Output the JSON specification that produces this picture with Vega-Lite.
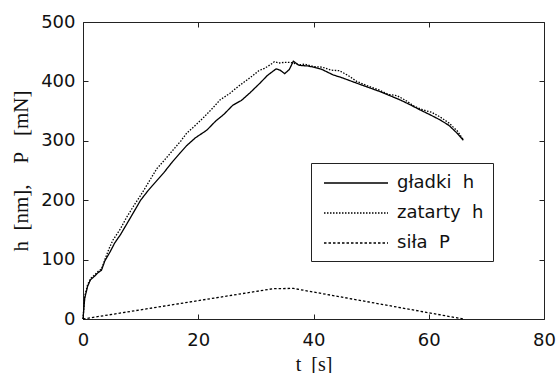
{
  "$schema": "https://vega.github.io/schema/vega-lite/v6.json",
  "width": 461,
  "height": 297,
  "autosize": {"type": "none"},
  "padding": {"left": 83, "top": 22, "right": 14, "bottom": 54},
  "background": "white",
  "config": {
    "view": {"stroke": "#222", "strokeWidth": 1},
    "font": "DejaVu Sans",
    "axis": {
      "grid": false,
      "domain": false,
      "labelFlush": false,
      "tickColor": "#222",
      "tickSize": 5,
      "offset": -5,
      "labelFont": "DejaVu Sans",
      "labelFontSize": 18,
      "labelColor": "#111",
      "titleFont": "Liberation Serif",
      "titleFontSize": 21,
      "titleFontWeight": "normal",
      "titleColor": "#111"
    }
  },
  "datasets": {
    "curves": [
      {"t": 0, "v": 0, "s": "gładki  h"},
      {"t": 0.3, "v": 35, "s": "gładki  h"},
      {"t": 0.8, "v": 55, "s": "gładki  h"},
      {"t": 1.3, "v": 66, "s": "gładki  h"},
      {"t": 2, "v": 72, "s": "gładki  h"},
      {"t": 2.6, "v": 78, "s": "gładki  h"},
      {"t": 3.2, "v": 82, "s": "gładki  h"},
      {"t": 3.8, "v": 98, "s": "gładki  h"},
      {"t": 4.7, "v": 113, "s": "gładki  h"},
      {"t": 5.5, "v": 128, "s": "gładki  h"},
      {"t": 6.5, "v": 142, "s": "gładki  h"},
      {"t": 7.6, "v": 160, "s": "gładki  h"},
      {"t": 8.8, "v": 180, "s": "gładki  h"},
      {"t": 10, "v": 200, "s": "gładki  h"},
      {"t": 11.2, "v": 215, "s": "gładki  h"},
      {"t": 12, "v": 224, "s": "gładki  h"},
      {"t": 13, "v": 235, "s": "gładki  h"},
      {"t": 14, "v": 246, "s": "gładki  h"},
      {"t": 15.3, "v": 262, "s": "gładki  h"},
      {"t": 16.8, "v": 279, "s": "gładki  h"},
      {"t": 18, "v": 292, "s": "gładki  h"},
      {"t": 19.5, "v": 305, "s": "gładki  h"},
      {"t": 21.5, "v": 318, "s": "gładki  h"},
      {"t": 23, "v": 333, "s": "gładki  h"},
      {"t": 24.5, "v": 345, "s": "gładki  h"},
      {"t": 26, "v": 360, "s": "gładki  h"},
      {"t": 27.5, "v": 368, "s": "gładki  h"},
      {"t": 29, "v": 381, "s": "gładki  h"},
      {"t": 30.7, "v": 397, "s": "gładki  h"},
      {"t": 32, "v": 410, "s": "gładki  h"},
      {"t": 33.5, "v": 421, "s": "gładki  h"},
      {"t": 34.2, "v": 419, "s": "gładki  h"},
      {"t": 35, "v": 413, "s": "gładki  h"},
      {"t": 35.8, "v": 420, "s": "gładki  h"},
      {"t": 36.5, "v": 434, "s": "gładki  h"},
      {"t": 37.5, "v": 427, "s": "gładki  h"},
      {"t": 39, "v": 426, "s": "gładki  h"},
      {"t": 40, "v": 424, "s": "gładki  h"},
      {"t": 41.5, "v": 420, "s": "gładki  h"},
      {"t": 43.4, "v": 411, "s": "gładki  h"},
      {"t": 45, "v": 406, "s": "gładki  h"},
      {"t": 47.5, "v": 397, "s": "gładki  h"},
      {"t": 49.5, "v": 390, "s": "gładki  h"},
      {"t": 51.5, "v": 383, "s": "gładki  h"},
      {"t": 53, "v": 377, "s": "gładki  h"},
      {"t": 55, "v": 369, "s": "gładki  h"},
      {"t": 56.5, "v": 362, "s": "gładki  h"},
      {"t": 58.5, "v": 352, "s": "gładki  h"},
      {"t": 60, "v": 345, "s": "gładki  h"},
      {"t": 62, "v": 335, "s": "gładki  h"},
      {"t": 63.5, "v": 326, "s": "gładki  h"},
      {"t": 65, "v": 312, "s": "gładki  h"},
      {"t": 66, "v": 301, "s": "gładki  h"},
      {"t": 0, "v": 0, "s": "zatarty  h"},
      {"t": 0.3, "v": 38, "s": "zatarty  h"},
      {"t": 0.8, "v": 58, "s": "zatarty  h"},
      {"t": 1.3, "v": 68, "s": "zatarty  h"},
      {"t": 2, "v": 74, "s": "zatarty  h"},
      {"t": 2.6, "v": 80, "s": "zatarty  h"},
      {"t": 3.2, "v": 84, "s": "zatarty  h"},
      {"t": 3.8, "v": 100, "s": "zatarty  h"},
      {"t": 4.5, "v": 118, "s": "zatarty  h"},
      {"t": 5.2, "v": 133, "s": "zatarty  h"},
      {"t": 6.5, "v": 152, "s": "zatarty  h"},
      {"t": 7.5, "v": 170, "s": "zatarty  h"},
      {"t": 8.7, "v": 189, "s": "zatarty  h"},
      {"t": 10, "v": 208, "s": "zatarty  h"},
      {"t": 11.5, "v": 232, "s": "zatarty  h"},
      {"t": 12.8, "v": 253, "s": "zatarty  h"},
      {"t": 14, "v": 266, "s": "zatarty  h"},
      {"t": 15.5, "v": 283, "s": "zatarty  h"},
      {"t": 17, "v": 300, "s": "zatarty  h"},
      {"t": 18, "v": 313, "s": "zatarty  h"},
      {"t": 19.5, "v": 326, "s": "zatarty  h"},
      {"t": 21, "v": 340, "s": "zatarty  h"},
      {"t": 22.5, "v": 355, "s": "zatarty  h"},
      {"t": 23.8, "v": 369, "s": "zatarty  h"},
      {"t": 25.5, "v": 380, "s": "zatarty  h"},
      {"t": 27, "v": 392, "s": "zatarty  h"},
      {"t": 28.4, "v": 402, "s": "zatarty  h"},
      {"t": 29.5, "v": 410, "s": "zatarty  h"},
      {"t": 30.5, "v": 418, "s": "zatarty  h"},
      {"t": 31.5, "v": 422, "s": "zatarty  h"},
      {"t": 32.5, "v": 428, "s": "zatarty  h"},
      {"t": 33.2, "v": 433, "s": "zatarty  h"},
      {"t": 34, "v": 431, "s": "zatarty  h"},
      {"t": 35, "v": 432, "s": "zatarty  h"},
      {"t": 36, "v": 432, "s": "zatarty  h"},
      {"t": 37.5, "v": 428, "s": "zatarty  h"},
      {"t": 38.5, "v": 429, "s": "zatarty  h"},
      {"t": 40, "v": 425, "s": "zatarty  h"},
      {"t": 41.5, "v": 424, "s": "zatarty  h"},
      {"t": 43, "v": 419, "s": "zatarty  h"},
      {"t": 44.5, "v": 418, "s": "zatarty  h"},
      {"t": 46, "v": 410, "s": "zatarty  h"},
      {"t": 47.5, "v": 400, "s": "zatarty  h"},
      {"t": 49.5, "v": 392, "s": "zatarty  h"},
      {"t": 51.5, "v": 385, "s": "zatarty  h"},
      {"t": 53, "v": 378, "s": "zatarty  h"},
      {"t": 54.5, "v": 376, "s": "zatarty  h"},
      {"t": 56, "v": 368, "s": "zatarty  h"},
      {"t": 57.5, "v": 358, "s": "zatarty  h"},
      {"t": 59, "v": 352, "s": "zatarty  h"},
      {"t": 60.5, "v": 348, "s": "zatarty  h"},
      {"t": 62, "v": 340, "s": "zatarty  h"},
      {"t": 63.5, "v": 330, "s": "zatarty  h"},
      {"t": 65, "v": 316, "s": "zatarty  h"},
      {"t": 66, "v": 302, "s": "zatarty  h"},
      {"t": 0, "v": 0, "s": "siła  P"},
      {"t": 33, "v": 51, "s": "siła  P"},
      {"t": 36.5, "v": 51.5, "s": "siła  P"},
      {"t": 66, "v": 0, "s": "siła  P"}
    ]
  },
  "data": {"name": "curves"},
  "resolve": {"axis": {"x": "independent", "y": "independent"}},
  "layer": [
    {
      "mark": {"type": "line", "color": "#000", "strokeWidth": 1.3},
      "encoding": {
        "x": {
          "field": "t", "type": "quantitative",
          "scale": {"domain": [0, 80], "nice": false},
          "axis": {"orient": "bottom", "values": [0, 20, 40, 60, 80], "title": "t\u00a0\u00a0[s]", "titleFontSize": 20, "labelPadding": 12, "titlePadding": 5}
        },
        "y": {
          "field": "v", "type": "quantitative",
          "scale": {"domain": [0, 500], "nice": false},
          "axis": {"orient": "left", "values": [0, 100, 200, 300, 400, 500], "title": "h\u00a0\u00a0[nm],\u00a0\u00a0\u00a0\u00a0P\u00a0\u00a0\u00a0[mN]", "labelPadding": 8, "titlePadding": 9}
        },
        "strokeDash": {
          "field": "s", "type": "nominal",
          "scale": {"domain": ["gładki  h", "zatarty  h", "siła  P"], "range": [[1, 0], [1.5, 1.5], [2.5, 2]]},
          "legend": {
            "title": null,
            "orient": "none",
            "legendX": 228,
            "legendY": 141,
            "fillColor": "white",
            "strokeColor": "#222",
            "padding": 9,
            "symbolType": "M-0.7,0H5.7",
            "symbolSize": 400,
            "symbolStrokeWidth": 1.3,
            "symbolStrokeColor": "#000",
            "labelFont": "DejaVu Sans",
            "labelFontSize": 18,
            "labelColor": "#111",
            "labelOffset": 55,
            "rowPadding": 10,
            "labelExpr": "replace(datum.label, ' ', '\u00a0')"
          }
        },
        "detail": {"field": "s"}
      }
    },
    {
      "mark": {"type": "point", "opacity": 0},
      "encoding": {
        "x": {
          "field": "t", "type": "quantitative",
          "scale": {"domain": [0, 80], "nice": false},
          "axis": {"orient": "top", "values": [0, 20, 40, 60, 80], "labels": false, "title": null}
        },
        "y": {
          "field": "v", "type": "quantitative",
          "scale": {"domain": [0, 500], "nice": false},
          "axis": {"orient": "right", "values": [0, 100, 200, 300, 400, 500], "labels": false, "title": null}
        }
      }
    }
  ]
}
